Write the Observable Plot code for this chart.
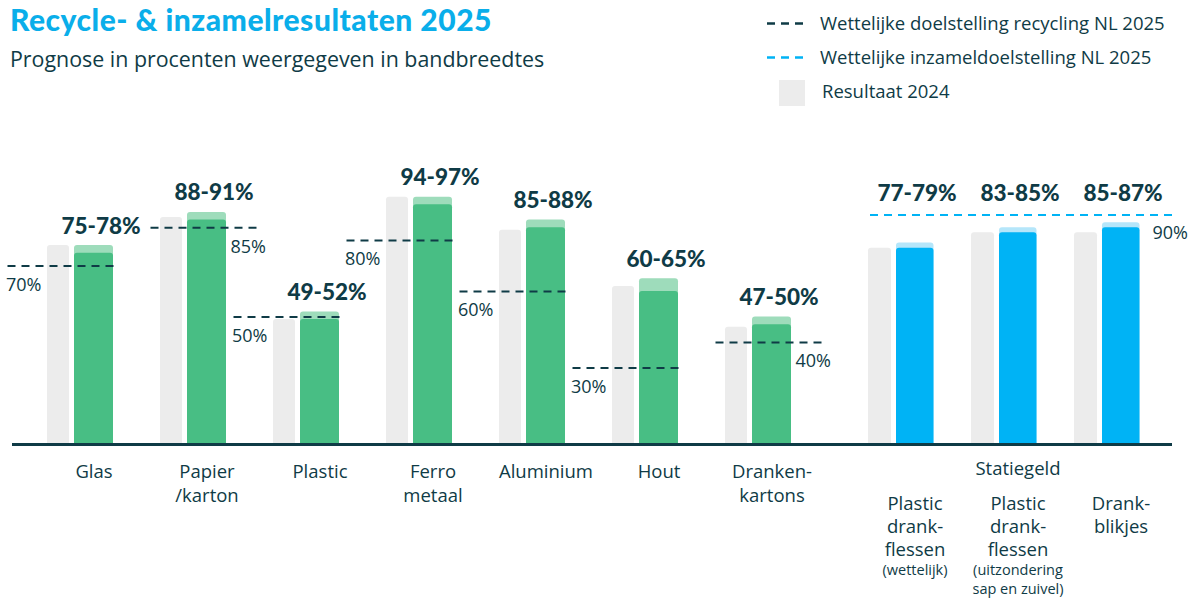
<!DOCTYPE html>
<html>
<head>
<meta charset="utf-8">
<script src="https://cdn.jsdelivr.net/npm/d3@7"></script>
<script src="https://cdn.jsdelivr.net/npm/@observablehq/plot@0.6"></script>
<style>
  html, body { margin: 0; padding: 0; background: #ffffff; }
  #wrap { position: relative; width: 1189px; height: 604px; overflow: hidden; }
  #header { position: absolute; left: 0; top: 0; }
  #left { position: absolute; left: 0; top: 110px; }
  #right { position: absolute; left: 850px; top: 110px; }
</style>
</head>
<body>
<div id="wrap">
  <svg id="header" width="1189" height="110" xmlns="http://www.w3.org/2000/svg"></svg>
  <div id="left"></div>
  <div id="right"></div>
</div>
<script>
// ---------------- data ----------------
const titleText = "Recycle- & inzamelresultaten 2025";
const subtitleText = "Prognose in procenten weergegeven in bandbreedtes";
const legendLabels = ["Wettelijke doelstelling recycling NL 2025", "Wettelijke inzameldoelstelling NL 2025", "Resultaat 2024"];

const recyclingCategories = ["Glas", "Papier\n/karton", "Plastic", "Ferro\nmetaal", "Aluminium", "Hout", "Dranken-\nkartons"];
const recyclingLow2025 = [75, 88, 49, 94, 85, 60, 47];
const recyclingHigh2025 = [78, 91, 52, 97, 88, 65, 50];
const recyclingResult2024 = [78, 89, 49, 97, 84, 62, 46];
const recyclingTarget = [70, 85, 50, 80, 60, 30, 40];
const targetLabelOnRight = ["Papier\n/karton", "Dranken-\nkartons"];

const depositGroupLabel = "Statiegeld";
const depositCategories = ["Plastic drankflessen (wettelijk)", "Plastic drankflessen (uitzondering sap en zuivel)", "Drankblikjes"];
const depositTickLabels = ["Plastic\ndrank-\nflessen", "Plastic\ndrank-\nflessen", "Drank-\nblikjes"];
const depositTickNotes = ["(wettelijk)", "(uitzondering\nsap en zuivel)", ""];
const depositLow2025 = [77, 83, 85];
const depositHigh2025 = [79, 85, 87];
const depositResult2024 = [77, 83, 83];
const depositTarget = [90];

// ---------------- styles ----------------
const INK = "#0f3b46";
const GRAY = "#ececec";
const GREEN = "#48be84";
const GREEN_LIGHT = "#9edcbb";
const BLUE = "#00b3f5";
const BLUE_LIGHT = "#b5e6fa";
const TITLE_BLUE = "#0aaeea";
const SANS = '"Open Sans", sans-serif';
const BOLD = 'Lato, "Open Sans", sans-serif';

// ---------------- header (title, subtitle, legend) ----------------
const header = d3.select("#header");
header.append("text").attr("x", 10).attr("y", 31).text(titleText)
  .attr("font-family", BOLD).attr("font-weight", 900).attr("font-size", 30)
  .attr("letter-spacing", 0.5).attr("fill", TITLE_BLUE);
header.append("text").attr("x", 10).attr("y", 67).text(subtitleText)
  .attr("font-family", SANS).attr("font-size", 21.4).attr("fill", INK);
const lg = header.append("g");
lg.append("line").attr("x1", 767).attr("x2", 803).attr("y1", 23.5).attr("y2", 23.5)
  .attr("stroke", INK).attr("stroke-width", 2.5).attr("stroke-dasharray", "8,6");
lg.append("line").attr("x1", 767).attr("x2", 803).attr("y1", 57.5).attr("y2", 57.5)
  .attr("stroke", BLUE).attr("stroke-width", 2.5).attr("stroke-dasharray", "8,6");
lg.append("rect").attr("x", 779).attr("y", 80).attr("width", 26).attr("height", 26).attr("fill", GRAY);
[[820, 29.5], [820, 64], [822, 98]].forEach(([x, y], i) => {
  lg.append("text").attr("x", x).attr("y", y).text(legendLabels[i])
    .attr("font-family", SANS).attr("font-size", 18.5).attr("fill", INK);
});

// ---------------- recycling panel ----------------
const rec = recyclingCategories.map((cat, i) => ({
  cat,
  low: recyclingLow2025[i],
  high: recyclingHigh2025[i],
  prev: recyclingResult2024[i],
  target: recyclingTarget[i],
  right: targetLabelOnRight.includes(cat)
}));
const recLeft = rec.filter(d => !d.right);
const recRight = rec.filter(d => d.right);

const common = {
  height: 494,
  marginTop: 79,
  marginBottom: 160,
  y: {domain: [0, 100], axis: null},
  style: {fontFamily: SANS, color: INK, background: "transparent", overflow: "visible"}
};

const leftPlot = Plot.plot({
  ...common,
  width: 850,
  marginLeft: 37,
  marginRight: 22,
  x: {type: "band", domain: recyclingCategories, padding: 0, axis: null},
  marks: [
    Plot.barY(rec, {x: "cat", y: "prev", fill: GRAY, insetLeft: 10, insetRight: 81, insetBottom: -1.5, rx: 3}),
    Plot.barY(rec, {x: "cat", y: "high", fill: GREEN_LIGHT, insetLeft: 37, insetRight: 37, insetBottom: -1.5, rx: 3}),
    Plot.barY(rec, {x: "cat", y: "low", fill: GREEN, insetLeft: 37, insetRight: 37, insetBottom: -1.5, rx: 3}),
    Plot.tickY(recLeft, {x: "cat", y: "target", stroke: INK, strokeWidth: 2, strokeDasharray: "8,6", insetLeft: -29.5, insetRight: 32.5}),
    Plot.tickY(recRight, {x: "cat", y: "target", stroke: INK, strokeWidth: 2, strokeDasharray: "8,6", insetLeft: 0.5, insetRight: 4.5}),
    Plot.text(recLeft, {x: "cat", y: "target", text: d => d.target + "%", textAnchor: "start", dx: -88, dy: 19, lineAnchor: "middle", fontSize: 18, fill: INK}),
    Plot.text(recRight, {x: "cat", y: "target", text: d => d.target + "%", textAnchor: "end", dx: 59, dy: 19, lineAnchor: "middle", fontSize: 18, fill: INK}),
    Plot.text(rec, {x: "cat", y: "high", text: d => `${d.low}-${d.high}%`, dx: 7, dy: -12, lineAnchor: "bottom", fontSize: 22.5, fontWeight: 900, fontFamily: BOLD, fill: INK}),
    Plot.ruleY([0], {stroke: INK, strokeWidth: 3, insetLeft: -25, insetRight: -22}),
    Plot.text(rec, {x: "cat", y: () => 0, text: "cat", lineAnchor: "top", dy: 17, fontSize: 18.5, lineHeight: 1.27, fill: INK})
  ]
});
document.getElementById("left").append(leftPlot);

// ---------------- statiegeld panel ----------------
const dep = depositCategories.map((cat, i) => ({
  cat,
  label: depositTickLabels[i],
  note: depositTickNotes[i],
  low: depositLow2025[i],
  high: depositHigh2025[i],
  prev: depositResult2024[i]
}));

const rightPlot = Plot.plot({
  ...common,
  width: 339,
  marginLeft: 13,
  marginRight: 17,
  x: {type: "band", domain: depositCategories, padding: 0, axis: null},
  marks: [
    Plot.barY(dep, {x: "cat", y: "prev", fill: GRAY, insetLeft: 5, insetRight: 75, insetBottom: -1.5, rx: 3}),
    Plot.barY(dep, {x: "cat", y: "high", fill: BLUE_LIGHT, insetLeft: 33, insetRight: 32.5, insetBottom: -1.5, rx: 3}),
    Plot.barY(dep, {x: "cat", y: "low", fill: BLUE, insetLeft: 33, insetRight: 32.5, insetBottom: -1.5, rx: 3}),
    Plot.ruleY(depositTarget, {stroke: BLUE, strokeWidth: 2, strokeDasharray: "8,6", insetLeft: 7, insetRight: -3}),
    Plot.text(depositTarget, {x: () => depositCategories[2], y: d => d, text: d => d + "%", textAnchor: "start", dx: 31.5, dy: 18, lineAnchor: "middle", fontSize: 18, fill: INK}),
    Plot.text(dep, {x: "cat", y: () => depositTarget[0], text: d => `${d.low}-${d.high}%`, dx: 2, dy: -14, lineAnchor: "bottom", fontSize: 22.5, fontWeight: 900, fontFamily: BOLD, fill: INK}),
    Plot.ruleY([0], {stroke: INK, strokeWidth: 3, insetLeft: -13}),
    Plot.text([depositGroupLabel], {x: () => depositCategories[1], y: () => 0, text: d => d, lineAnchor: "top", dy: 17, fontSize: 18.5, fill: INK}),
    Plot.text(dep, {x: "cat", y: () => 0, text: "label", lineAnchor: "top", dy: 49, fontSize: 18.5, lineHeight: 1.25, fill: INK}),
    Plot.text(dep, {x: "cat", y: () => 0, text: "note", lineAnchor: "top", dy: 117, fontSize: 14.5, lineHeight: 1.3, fill: INK})
  ]
});
document.getElementById("right").append(rightPlot);
</script>
</body>
</html>
